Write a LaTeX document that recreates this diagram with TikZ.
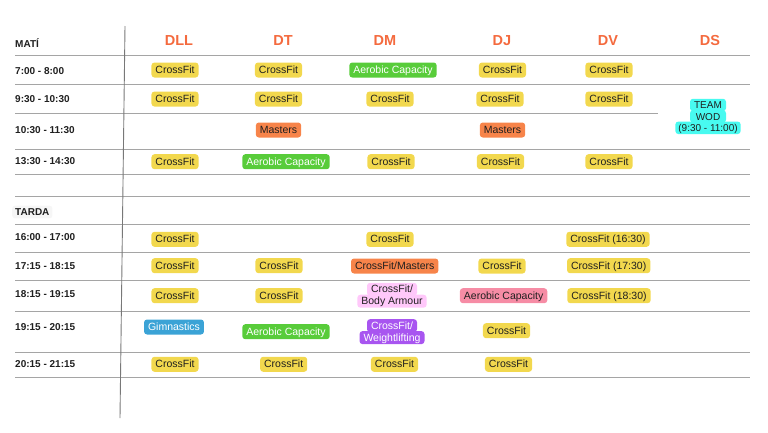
\documentclass[tikz,border=0pt]{standalone}
\usepackage{fontspec}
\setmainfont{Liberation Sans}
\usepackage{tikz}
\usetikzlibrary{positioning}
\definecolor{col1}{RGB}{242,216,78}
\definecolor{col2}{RGB}{88,204,58}
\definecolor{col3}{RGB}{247,132,74}
\definecolor{col4}{RGB}{72,250,240}
\definecolor{col5}{RGB}{59,163,214}
\definecolor{col6}{RGB}{255,200,250}
\definecolor{col7}{RGB}{246,140,165}
\definecolor{col8}{RGB}{168,85,240}
\definecolor{head}{RGB}{244,106,62}
\definecolor{ink}{RGB}{31,31,31}
\definecolor{rule}{RGB}{165,165,165}
\definecolor{axis}{RGB}{120,120,120}
\definecolor{shade}{RGB}{246,246,246}
\tikzstyle{tag}=[rounded corners=3pt, inner xsep=4pt, inner ysep=0pt, minimum height=15pt, text height=7.2pt, text depth=0pt, font=\fontsize{10.5}{12}\selectfont, text=ink]
\tikzstyle{cf}=[tag, fill=col1]
\tikzstyle{aero}=[tag, fill=col2, text=white]
\tikzstyle{mast}=[tag, fill=col3]
\tikzstyle{team}=[tag, fill=col4, minimum height=12.5pt, inner xsep=3pt, font=\fontsize{10}{11}\selectfont]
\tikzstyle{gym}=[tag, fill=col5, text=white]
\tikzstyle{body}=[tag, fill=col6, minimum height=13pt]
\tikzstyle{aerop}=[tag, fill=col7]
\tikzstyle{lift}=[tag, fill=col8, text=white, minimum height=13pt]
\tikzstyle{day}=[font=\fontsize{14.5}{16}\selectfont\bfseries, text=head]
\tikzstyle{hour}=[anchor=west, inner sep=0pt, font=\fontsize{10}{11}\selectfont\bfseries, text=ink]

\begin{document}
\begin{tikzpicture}[x=1pt,y=-1pt]
    \useasboundingbox (0,0) rectangle (768,432);
    % grid
    \draw[rule, line width=1pt]
    (15,55) -- (750,55) (15,84) -- (750,84) (15,113) -- (658,113)
    (15,149) -- (750,149) (15,174) -- (750,174) (15,196) -- (750,196)
    (15,224) -- (750,224) (15,252) -- (750,252) (15,280) -- (750,280)
    (15,311) -- (750,311) (15,352) -- (750,352) (15,377) -- (750,377);
    \draw[axis, line width=0.9pt] (125,26) -- (120,418);
    % days
    \node[day] (dll) at (179,40.5) {DLL};
    \node[day] (dt) at (283,40.5) {DT};
    \node[day] (dm) at (385,40.5) {DM};
    \node[day] (dj) at (502,40.5) {DJ};
    \node[day] (dv) at (608,40.5) {DV};
    \node[day] (ds) at (710,40.5) {DS};
    % hours
    \node[hour] (mati) at (15,42.7) {MATÍ};
    \node[hour] (h1) at (15,70.7) {7:00 - 8:00};
    \node[hour] (h2) at (15,99) {9:30 - 10:30};
    \node[hour] (h3) at (15,130) {10:30 - 11:30};
    \node[hour] (h4) at (15,161) {13:30 - 14:30};
    \node[hour, fill=shade, rounded corners=3pt, inner sep=3pt] (tarda) at (12,212) {TARDA};
    \node[hour] (h5) at (15,237) {16:00 - 17:00};
    \node[hour] (h6) at (15,265.7) {17:15 - 18:15};
    \node[hour] (h7) at (15,294) {18:15 - 19:15};
    \node[hour] (h8) at (15,327) {19:15 - 20:15};
    \node[hour] (h9) at (15,364) {20:15 - 21:15};
    % 7:00
    \node[cf] (a1) at (175,70) {CrossFit};
    \node[cf] (b1) at (278.5,70) {CrossFit};
    \node[aero] (c1) at (393,70) {Aerobic Capacity};
    \node[cf] (d1) at (502.5,70) {CrossFit};
    \node[cf] (e1) at (609,70) {CrossFit};
    % 9:30
    \node[cf] (a2) at (175,99) {CrossFit};
    \node[cf] (b2) at (278.5,99) {CrossFit};
    \node[cf] (c2) at (390,99) {CrossFit};
    \node[cf] (d2) at (500,99) {CrossFit};
    \node[cf] (e2) at (609,99) {CrossFit};
    \node[team, minimum width=36pt] (f2a) at (708,105) {TEAM};
    \node[team, minimum width=36pt] (f2b) [below=-1.5pt of f2a] {WOD};
    \node[team] (f2c) [below=-1.5pt of f2b] {(9:30 - 11:00)};
    % 10:30
    \node[mast] (b3) at (278.5,130) {Masters};
    \node[mast] (d3) at (502.5,130) {Masters};
    % 13:30
    \node[cf] (a4) at (175,161.7) {CrossFit};
    \node[aero] (b4) at (286,161.7) {Aerobic Capacity};
    \node[cf] (c4) at (391,161.7) {CrossFit};
    \node[cf] (d4) at (500.5,161.7) {CrossFit};
    \node[cf] (e4) at (609,161.7) {CrossFit};
    % 16:00
    \node[cf] (a5) at (175,239.3) {CrossFit};
    \node[cf] (c5) at (390,239.3) {CrossFit};
    \node[cf] (e5) at (608,239.3) {CrossFit (16:30)};
    % 17:15
    \node[cf] (a6) at (175,265.7) {CrossFit};
    \node[cf] (b6) at (279,265.7) {CrossFit};
    \node[mast] (c6) at (394.7,266) {CrossFit/Masters};
    \node[cf] (d6) at (502,266) {CrossFit};
    \node[cf] (e6) at (608.7,265.7) {CrossFit (17:30)};
    % 18:15
    \node[cf] (a7) at (175,295.7) {CrossFit};
    \node[cf] (b7) at (279,295.7) {CrossFit};
    \node[body] (c7a) at (392,289.3) {CrossFit/};
    \node[body] (c7b) [below=-1.5pt of c7a] {Body Armour};
    \node[aerop] (d7) at (503.6,295.7) {Aerobic Capacity};
    \node[cf] (e7) at (609,295.7) {CrossFit (18:30)};
    % 19:15
    \node[gym] (a8) at (174,327) {Gimnastics};
    \node[aero] (b8) at (286,331.7) {Aerobic Capacity};
    \node[lift] (c8a) at (392,325.7) {CrossFit/};
    \node[lift] (c8b) [below=-1.5pt of c8a] {Weightlifting};
    \node[cf] (d8) at (506.5,330.7) {CrossFit};
    % 20:15
    \node[cf] (a9) at (175,364.3) {CrossFit};
    \node[cf] (b9) at (283.7,364.3) {CrossFit};
    \node[cf] (c9) at (394.5,364.3) {CrossFit};
    \node[cf] (d9) at (508.5,364.3) {CrossFit};
\end{tikzpicture}
\end{document}
